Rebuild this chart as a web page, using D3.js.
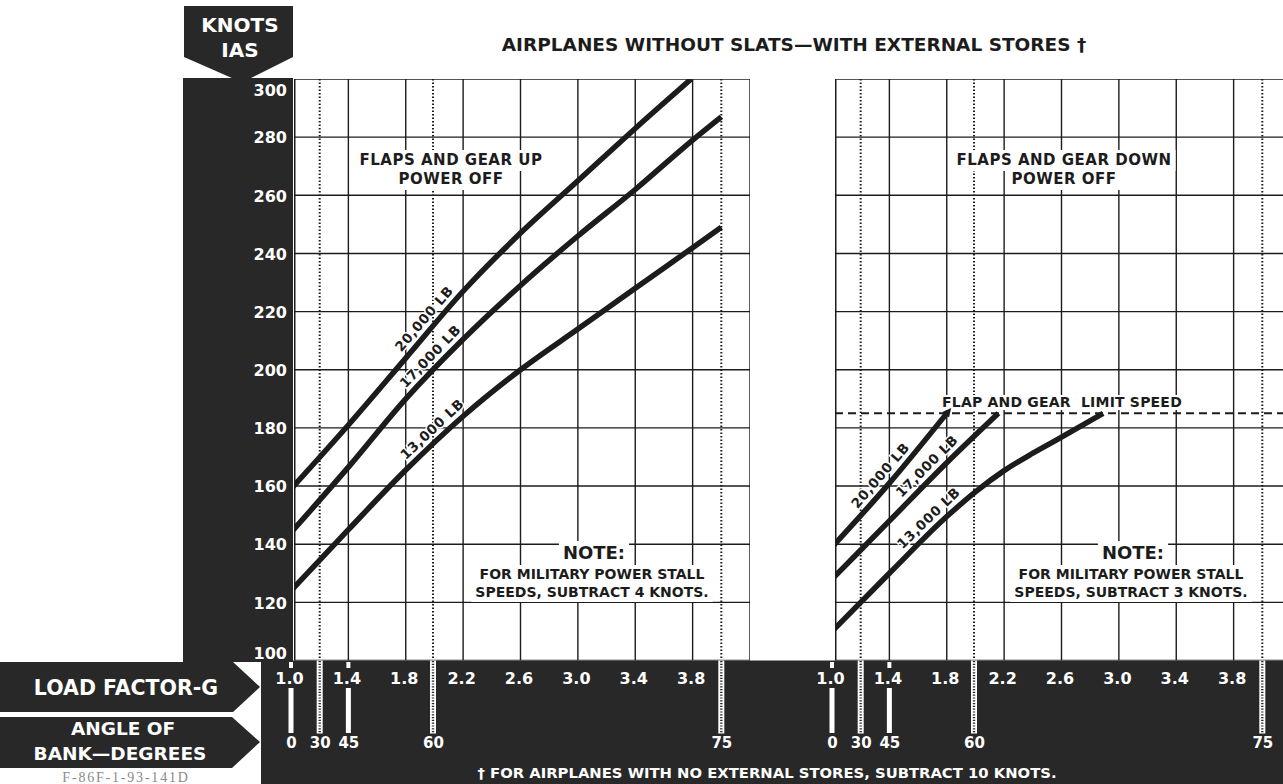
<!DOCTYPE html>
<html><head><meta charset="utf-8">
<script src="https://cdn.jsdelivr.net/npm/d3@7/dist/d3.min.js"></script>
<style>
html,body{margin:0;padding:0;background:#fff;overflow:hidden;}
svg{display:block;}
text{font-family:"DejaVu Sans",sans-serif;font-weight:bold;}
text.serial{font-family:"Liberation Serif",serif;font-weight:normal;}
</style></head><body>
<svg id="chart" width="1283" height="784"></svg>
<script>
// ---------- DATA ----------
const knotsTicks = [100,120,140,160,180,200,220,240,260,280,300];
const loadFactorTicks = [1.0,1.4,1.8,2.2,2.6,3.0,3.4,3.8];
const loadFactorGrid = [1.4,1.8,2.2,2.6,3.0,3.4,3.8,4.2];
const bankAngles = [0,30,45,60,75];
const bankAngleG = [1.0,1.2,1.4,1.99,4.0];
const weightLabels = ["20,000 LB","17,000 LB","13,000 LB"];

// Flaps and gear up, power off
const upG20000 = [1.0,1.4,1.8,2.2,2.6,3.0,3.4,3.79];
const up20000  = [159,181,204,227,247,265,283,300];
const upG17000 = [1.0,1.4,1.8,2.2,2.6,3.0,3.4,3.8,4.0];
const up17000  = [144,166.5,190,210.5,229,246,262,279,287];
const upG13000 = [1.0,1.4,1.8,2.2,2.6,3.0,3.4,3.8,4.0];
const up13000  = [124,145,165.5,184,200,214,228,242,249];
const upLabelG = [1.99,2.03,2.04];

// Flaps and gear down, power off
const downG20000 = [1.0,1.4,1.8];
const down20000  = [139,161,185];
const downG17000 = [1.0,1.4,1.8,2.16];
const down17000  = [128,148,168,185];
const downG13000 = [1.0,1.4,1.8,2.0,2.2,2.4,2.6,2.89];
const down13000  = [110,130,149.5,158,165.3,171.3,176.8,185];
const downLabelG = [1.40,1.72,1.73];
const limitSpeed = 185;

// ---------- DRAW ----------
const W = 1283, H = 784;
const DARK = "#282828", INK = "#1c1c1c";
const svg = d3.select("#chart");
const defs = svg.append("defs");
defs.append("marker").attr("id","tip").attr("viewBox","0 0 10 10").attr("refX",2).attr("refY",5)
  .attr("markerWidth",2.2).attr("markerHeight",1.6).attr("orient","auto")
  .append("path").attr("d","M0,0 L10,5 L0,10 Z").attr("fill",INK);

const y = d3.scaleLinear().domain([100,300]).range([660.5,79]);
const xLeft = d3.scaleLinear().domain([1.0,4.2]).range([291,750]);
const xRight = d3.scaleLinear().domain([1.0,4.2]).range([832,1291]);

const panels = [
  {x:xLeft, x0:294, series:[[upG20000,up20000],[upG17000,up17000],[upG13000,up13000]], labelG:upLabelG,
   title:["FLAPS AND GEAR UP","POWER OFF"], titleX:451, note:"4", noteX:592},
  {x:xRight, x0:835, series:[[downG20000,down20000],[downG17000,down17000],[downG13000,down13000]], labelG:downLabelG,
   title:["FLAPS AND GEAR DOWN","POWER OFF"], titleX:1064, note:"3", noteX:1131, limit:true}
];

function addBg(g, node, padX, padY){
  const bb = node.getBBox();
  g.insert("rect", ":first-child").attr("x",bb.x-padX).attr("y",bb.y+2-padY)
   .attr("width",bb.width+2*padX).attr("height",bb.height-3+2*padY).attr("fill","#fff");
}

function interp(gs, vs, g){
  const i = Math.max(1, Math.min(gs.length-1, d3.bisectLeft(gs, g)));
  const t = (g-gs[i-1])/(gs[i]-gs[i-1]);
  return vs[i-1] + t*(vs[i]-vs[i-1]);
}

panels.forEach((p,pi)=>{
  const X = p.x;
  const x1 = X(4.2);
  const cid = "clip"+pi;
  defs.append("clipPath").attr("id",cid).append("rect")
    .attr("x",p.x0).attr("y",y(300)).attr("width",x1-p.x0).attr("height",y(100)-y(300));
  const g = svg.append("g").attr("clip-path",`url(#${cid})`);
  g.append("rect").attr("x",p.x0).attr("y",y(300)).attr("width",x1-p.x0).attr("height",y(100)-y(300)).attr("fill","#fff");
  // horizontal grid
  g.selectAll("line.h").data(knotsTicks).join("line")
    .attr("x1",p.x0).attr("x2",x1).attr("y1",d=>y(d)).attr("y2",d=>y(d))
    .attr("stroke",INK).attr("stroke-width",1.4);
  // vertical grid
  g.selectAll("line.v").data(loadFactorGrid).join("line")
    .attr("x1",d=>X(d)).attr("x2",d=>X(d)).attr("y1",y(300)).attr("y2",y(100))
    .attr("stroke",INK).attr("stroke-width",1.4);
  g.append("line").attr("x1",p.x0+0.7).attr("x2",p.x0+0.7).attr("y1",y(300)).attr("y2",y(100))
    .attr("stroke",INK).attr("stroke-width",1.6);
  // dotted bank-angle lines
  g.selectAll("line.b").data(bankAngles.map((a,i)=>({a,g:bankAngleG[i]})).filter(d=>[30,60,75].includes(d.a))).join("line")
    .attr("x1",d=>X(d.g)).attr("x2",d=>X(d.g)).attr("y1",y(300)).attr("y2",y(100))
    .attr("stroke",INK).attr("stroke-width",2).attr("stroke-dasharray","1.5,2");

  // panel titles
  const tg = g.append("g");
  p.title.forEach((t,i)=>{
    const n = tg.append("text").attr("x",p.titleX).attr("y",165+i*19).attr("text-anchor","middle")
      .attr("font-size",15).attr("letter-spacing",0.5).attr("fill",INK).text(t);
    addBg(tg, n.node(), 4, 3);
  });

  // note
  const ng = g.append("g");
  const cx = p.noteX;
  const n1 = ng.append("text").attr("x",cx+2).attr("y",559).attr("text-anchor","middle").attr("font-size",18).attr("fill",INK).text("NOTE:");
  const n2 = ng.append("text").attr("x",cx).attr("y",579).attr("text-anchor","middle").attr("font-size",14).attr("fill",INK).text("FOR MILITARY POWER STALL");
  const n3 = ng.append("text").attr("x",cx).attr("y",597).attr("text-anchor","middle").attr("font-size",14).attr("fill",INK).text(`SPEEDS, SUBTRACT ${p.note} KNOTS.`);
  addBg(ng, n1.node(), 4, 3);
  addBg(ng, n2.node(), 4, 3);
  addBg(ng, n3.node(), 4, 3);

  // limit speed
  if(p.limit){
    const lg = g.append("g");
    const lt = lg.append("text").attr("x",1062).attr("y",407).attr("text-anchor","middle").attr("font-size",14).attr("letter-spacing",0.2).attr("fill",INK)
      .attr("xml:space","preserve").text("FLAP AND GEAR  LIMIT SPEED");
    addBg(lg, lt.node(), 2, 1);
    g.append("line").attr("x1",p.x0).attr("x2",x1).attr("y1",y(limitSpeed)).attr("y2",y(limitSpeed))
      .attr("stroke",INK).attr("stroke-width",2).attr("stroke-dasharray","8,5");
  }

  // curves
  const line = d3.line().x(d=>X(d[0])).y(d=>y(d[1])).curve(d3.curveMonotoneX);
  p.series.forEach(([gs,vs],si)=>{
    const path = g.append("path").datum(gs.map((gg,i)=>[gg,vs[i]])).attr("d",line)
      .attr("fill","none").attr("stroke",INK).attr("stroke-width",5.5).attr("stroke-linecap","butt");
    if(p.limit && si===0) path.attr("marker-end","url(#tip)");
    // label along curve
    const gl = p.labelG[si];
    const xa = X(gl-0.12), ya = y(interp(gs,vs,gl-0.12));
    const xb = X(gl+0.12), yb = y(interp(gs,vs,gl+0.12));
    const ang = Math.atan2(yb-ya, xb-xa);
    const px = X(gl), py = y(interp(gs,vs,gl));
    const off = 12;
    const lx = px + off*Math.sin(ang), ly = py - off*Math.cos(ang);
    g.append("text").attr("transform",`translate(${lx},${ly}) rotate(${ang*180/Math.PI})`)
      .attr("text-anchor","middle").attr("dy","0.36em").attr("font-size",13.5).attr("letter-spacing",0.6)
      .attr("fill",INK).attr("stroke","#fff").attr("stroke-width",3).attr("paint-order","stroke")
      .text(weightLabels[si]);
  });
});

// ---------- dark frame ----------
svg.append("rect").attr("x",183).attr("y",78).attr("width",110).attr("height",584).attr("fill",DARK);
svg.append("polygon").attr("points","184,6 293,6 293,57 250,78.5 233,78.5 184,57").attr("fill",DARK);
svg.append("rect").attr("x",261).attr("y",660.5).attr("width",W-261).attr("height",H-660.5).attr("fill",DARK);
svg.append("polygon").attr("points","0,662 233,662 260,687 233,712 0,712").attr("fill",DARK);
svg.append("polygon").attr("points","0,717 232,717 260,742 232,768 0,768").attr("fill",DARK);

svg.append("text").attr("x",240).attr("y",32).attr("text-anchor","middle").attr("font-size",20).attr("fill","#fff").text("KNOTS");
svg.append("text").attr("x",240).attr("y",57).attr("text-anchor","middle").attr("font-size",20).attr("fill","#fff").text("IAS");

// y axis labels
const yAxis = svg.append("g").attr("transform","translate(287,0)")
  .call(d3.axisLeft(y).tickValues(knotsTicks).tickSize(0).tickPadding(0));
yAxis.select(".domain").remove();
yAxis.selectAll("text").attr("font-size",16).attr("fill","#fff").attr("font-family","DejaVu Sans").attr("font-weight","bold")
  .attr("dy",d=> d===300 ? "1.05em" : d===100 ? "-0.15em" : "0.36em");

// axis band texts
svg.append("text").attr("x",126).attr("y",695).attr("text-anchor","middle").attr("font-size",20.5).attr("fill","#fff").text("LOAD FACTOR-G");
svg.append("text").attr("x",123).attr("y",735).attr("text-anchor","middle").attr("font-size",18.5).attr("fill","#fff").text("ANGLE OF");
svg.append("text").attr("x",120).attr("y",760).attr("text-anchor","middle").attr("font-size",18.5).attr("fill","#fff").text("BANK—DEGREES");
svg.append("text").attr("class","serial").attr("x",126).attr("y",782).attr("text-anchor","middle").attr("font-size",14)
  .attr("letter-spacing",1.8).attr("fill","#8a8a8a").text("F-86F-1-93-141D");

panels.forEach((p,pi)=>{
  const X = p.x;
  const bx = d3.scaleOrdinal().domain(bankAngles).range(bankAngleG.map(g=>X(g)));
  // white marks in the band
  bankAngles.forEach((a,i)=>{
    const xx = X(bankAngleG[i]);
    if(a===0 || a===45){
      svg.append("rect").attr("x",xx-2.5).attr("y",688).attr("width",5).attr("height",45).attr("fill","#fff");
      svg.append("rect").attr("x",xx-2).attr("y",662).attr("width",4).attr("height",6).attr("fill","#fff");
    } else {
      svg.append("rect").attr("x",xx-3).attr("y",660.5).attr("width",6).attr("height",73).attr("fill","#fff");
      svg.append("line").attr("x1",xx).attr("x2",xx).attr("y1",661).attr("y2",733)
        .attr("stroke",DARK).attr("stroke-width",2.4).attr("stroke-dasharray","1.2,1.6");
    }
  });
  const lf = svg.append("g").attr("transform","translate(-2,672)")
    .call(d3.axisBottom(X).tickValues(loadFactorTicks).tickFormat(d3.format(".1f")).tickSize(0).tickPadding(1));
  lf.select(".domain").remove();
  lf.selectAll("text").attr("font-size",16).attr("fill","#fff").attr("font-family","DejaVu Sans").attr("font-weight","bold");
  const ba = svg.append("g").attr("transform","translate(0,737)")
    .call(d3.axisBottom(bx).tickValues(bankAngles).tickSize(0).tickPadding(0));
  ba.select(".domain").remove();
  ba.selectAll("text").attr("font-size",15).attr("fill","#fff").attr("font-family","DejaVu Sans").attr("font-weight","bold");
});

// titles
svg.append("text").attr("x",794).attr("y",51).attr("text-anchor","middle").attr("font-size",18.5).attr("fill",INK)
  .text("AIRPLANES WITHOUT SLATS—WITH EXTERNAL STORES †");
svg.append("text").attr("x",767).attr("y",778).attr("text-anchor","middle").attr("font-size",14.8).attr("fill","#fff")
  .text("† FOR AIRPLANES WITH NO EXTERNAL STORES, SUBTRACT 10 KNOTS.");
</script>
</body></html>
